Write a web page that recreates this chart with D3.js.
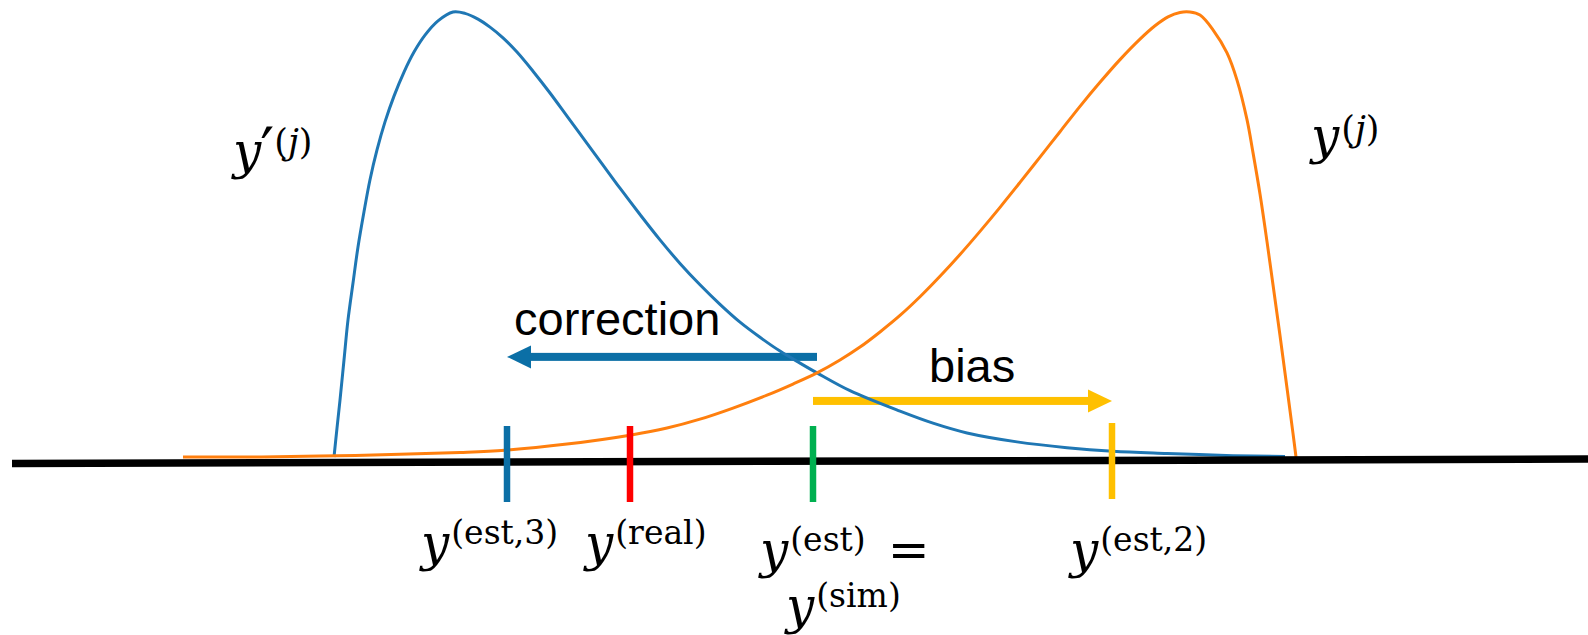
<!DOCTYPE html>
<html>
<head>
<meta charset="utf-8">
<script src="https://cdn.jsdelivr.net/npm/d3@7"></script>
<style>
  html, body { margin: 0; padding: 0; background: #fff; }
  svg { display: block; }
  .sans { font-family: "Liberation Sans", Arial, sans-serif; }
  .math { font-family: "DejaVu Serif", "Liberation Serif", serif; }
</style>
</head>
<body>
<svg id="chart" width="1588" height="635"></svg>
<script>
// Corrected distribution y'(j) (blue) and simulated distribution y(j) (orange)
// positions in arbitrary value units, heights as relative density (peak = 1)
const blueX = [-4.66, -4.63, -4.60, -4.56, -4.52, -4.47, -4.42, -4.36, -4.30, -4.23, -4.15, -4.06, -3.96, -3.86,
  -3.75, -3.62, -3.47, -3.35, -3.22, -3.10, -2.97, -2.83, -2.67, -2.50, -2.33, -2.15, -1.97, -1.80, -1.60, -1.40,
  -1.20, -1.00, -0.80, -0.60, -0.40, -0.20, 0.00, 0.17, 0.50, 1.00, 1.33, 1.67, 2.17, 2.67, 3.13, 3.67, 4.33, 4.85];
const blueY = [0.000, 0.065, 0.128, 0.218, 0.308, 0.391, 0.472, 0.551, 0.623, 0.690, 0.753, 0.811, 0.865, 0.910,
  0.948, 0.980, 1.000, 0.997, 0.984, 0.966, 0.942, 0.910, 0.867, 0.818, 0.766, 0.711, 0.656, 0.604, 0.545, 0.488,
  0.435, 0.387, 0.343, 0.303, 0.269, 0.238, 0.211, 0.189, 0.149, 0.103, 0.076, 0.054, 0.034, 0.021, 0.013, 0.008,
  0.003, 0.001];

const orangeX = [-6.17, -5.50, -4.80, -4.00, -3.40, -2.95, -2.33, -1.70, -1.33, -1.00, -0.67, -0.33, -0.07, 0.17,
  0.40, 0.60, 0.80, 1.00, 1.20, 1.40, 1.60, 1.80, 2.00, 2.20, 2.40, 2.60, 2.80, 3.00, 3.20, 3.40, 3.55, 3.68, 3.80,
  3.90, 4.00, 4.13, 4.27, 4.37, 4.47, 4.53, 4.60, 4.67, 4.73, 4.80, 4.87, 4.93, 4.96];
const orangeY = [0.000, 0.000, 0.002, 0.006, 0.010, 0.015, 0.029, 0.049, 0.065, 0.085, 0.110, 0.139, 0.164, 0.189,
  0.218, 0.247, 0.281, 0.318, 0.360, 0.406, 0.455, 0.507, 0.561, 0.617, 0.674, 0.731, 0.788, 0.842, 0.893, 0.939,
  0.969, 0.989, 0.999, 1.000, 0.993, 0.960, 0.908, 0.847, 0.758, 0.684, 0.591, 0.484, 0.387, 0.273, 0.155, 0.053, 0.000];

// marked estimates along the value axis
const markNames = ["est3", "real", "est", "est2"];
const markX = [-2.93, -1.70, 0.13, 3.12];
const markColors = ["#0b6fa6", "#ff0000", "#00b050", "#ffc000"];

// arrows: correction (from y(est) back to y(est,3)), bias (from y(est) to y(est,2))
const arrowNames = ["correction", "bias"];
const arrowFrom = [0.16, 0.13];
const arrowTo = [-2.93, 3.12];
const arrowLevel = [0.225, 0.126];
const arrowColors = ["#0b6fa6", "#ffc000"];

const svg = d3.select("#chart");
const W = 1588, H = 635;

const x = d3.scaleLinear().domain([-8, 7.88]).range([0, W]);
const y = d3.scaleLinear().domain([0, 1]).range([457, 12]);

const line = d3.line()
  .x(d => x(d[0]))
  .y(d => y(d[1]))
  .curve(d3.curveCatmullRom.alpha(0.5));

// arrows sit underneath the curves
const arrowG = svg.append("g");
arrowNames.forEach((name, i) => {
  const x0 = x(arrowFrom[i]), x1 = x(arrowTo[i]);
  const yy = y(arrowLevel[i]);
  const dir = Math.sign(x1 - x0);
  const headLen = 24, headHalf = 11.5, shaft = 8;
  arrowG.append("rect")
    .attr("x", Math.min(x0, x1 - dir * headLen))
    .attr("y", yy - shaft / 2)
    .attr("width", Math.abs(x1 - dir * headLen - x0) + 1)
    .attr("height", shaft)
    .attr("fill", arrowColors[i]);
  arrowG.append("path")
    .attr("d", `M${x1},${yy} L${x1 - dir * headLen},${yy - headHalf} L${x1 - dir * headLen},${yy + headHalf} Z`)
    .attr("fill", arrowColors[i]);
});

// distribution curves
svg.append("path")
  .datum(blueX.map((v, i) => [v, blueY[i]]))
  .attr("d", line)
  .attr("fill", "none")
  .attr("stroke", "#1f77b4")
  .attr("stroke-width", 3);

svg.append("path")
  .datum(orangeX.map((v, i) => [v, orangeY[i]]))
  .attr("d", line)
  .attr("fill", "none")
  .attr("stroke", "#ff7f0e")
  .attr("stroke-width", 3);

// value axis
svg.append("line")
  .attr("x1", 12).attr("y1", 463.5)
  .attr("x2", W).attr("y2", 459)
  .attr("stroke", "#000")
  .attr("stroke-width", 7.5);

// estimate markers
markNames.forEach((n, i) => {
  const top = n === "est2" ? 423 : 426;
  svg.append("line")
    .attr("x1", x(markX[i])).attr("x2", x(markX[i]))
    .attr("y1", top).attr("y2", top + 76)
    .attr("stroke", markColors[i])
    .attr("stroke-width", 6.5);
});

// arrow captions
svg.append("text").attr("class", "sans")
  .attr("x", 514).attr("y", 335)
  .attr("font-size", 47).attr("fill", "#000")
  .text("correction");
svg.append("text").attr("class", "sans")
  .attr("x", 929).attr("y", 382)
  .attr("font-size", 47).attr("fill", "#000")
  .text("bias");

// math labels: italic y with an upright superscript
function mathLabel(px, py, sup, opts = {}) {
  const raise = opts.raise || 16;
  const supSize = opts.supSize || 33;
  const t = svg.append("text").attr("class", "math")
    .attr("x", px).attr("y", py)
    .attr("font-size", 50).attr("fill", "#000");
  t.append("tspan").attr("font-style", "italic").text("y");
  if (opts.prime) {
    t.append("tspan").attr("font-size", 62).attr("dx", -1).attr("dy", 4).text("\u2032");
  }
  const s = t.append("tspan").attr("font-size", supSize)
    .attr("dy", -raise - (opts.prime ? 4 : 0)).attr("dx", opts.prime ? 0 : 2);
  sup.forEach(part => {
    s.append("tspan").attr("font-style", part.italic ? "italic" : "normal").text(part.t);
  });
  if (opts.after) {
    t.append("tspan").attr("dy", raise).attr("dx", 22).attr("font-size", 50).text(opts.after);
  }
  return t;
}

mathLabel(233, 168, [{t: "("}, {t: "j", italic: true}, {t: ")"}], {prime: true, raise: 14, supSize: 35});
mathLabel(1311, 153, [{t: "("}, {t: "j", italic: true}, {t: ")"}], {raise: 12, supSize: 35});
mathLabel(421, 560, [{t: "(est,3)"}]);
mathLabel(585, 560, [{t: "(real)"}]);
mathLabel(760, 567, [{t: "(est)"}], {after: "="});
mathLabel(786, 623, [{t: "(sim)"}]);
mathLabel(1070, 567, [{t: "(est,2)"}]);
</script>
</body>
</html>
